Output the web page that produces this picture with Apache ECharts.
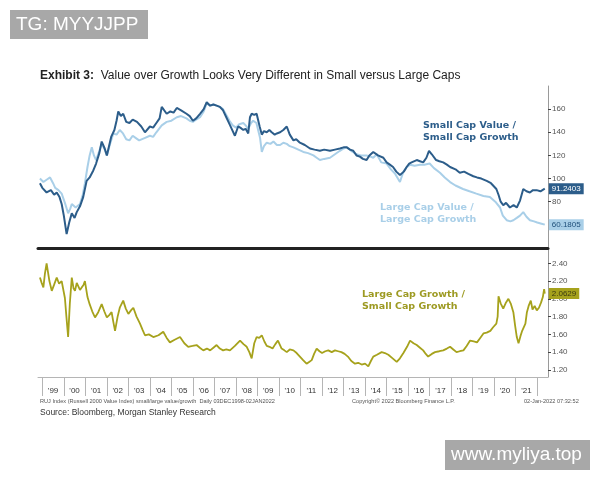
<!DOCTYPE html>
<html>
<head>
<meta charset="utf-8">
<script src="https://cdn.jsdelivr.net/npm/echarts/dist/echarts.min.js"></script>
<style>
html,body{margin:0;padding:0;background:#fff}
#main{width:600px;height:480px}
</style>
</head>
<body>
<div id="main"></div>
<script>
// small cap value / small cap growth (dark blue)
var svDates = [1998.89,1999.0,1999.2,1999.4,1999.55,1999.67,1999.8,1999.9,2000.0,2000.13,2000.25,2000.37,2000.5,2000.6,2000.75,2000.9,
	2001.06,2001.2,2001.37,2001.5,2001.65,2001.76,2001.9,2002.0,2002.1,2002.2,2002.35,2002.45,2002.53,2002.65,2002.76,2002.9,
	2003.05,2003.2,2003.4,2003.6,2003.77,2004.0,2004.15,2004.3,2004.45,2004.55,2004.78,2004.95,2005.1,2005.25,2005.45,2005.7,
	2005.85,2006.0,2006.15,2006.33,2006.5,2006.64,2006.8,2006.95,2007.1,2007.25,2007.4,2007.55,2007.7,2007.85,2007.95,2008.1,
	2008.2,2008.34,2008.45,2008.57,2008.65,2008.73,2008.85,2008.96,2009.1,2009.2,2009.3,2009.43,2009.55,2009.66,2009.8,2009.9,
	2010.05,2010.2,2010.36,2010.5,2010.67,2010.8,2010.97,2011.2,2011.44,2011.65,2011.9,2012.1,2012.37,2012.6,2012.83,2013.0,
	2013.15,2013.3,2013.45,2013.6,2013.76,2013.9,2014.07,2014.2,2014.38,2014.6,2014.85,2015.0,2015.15,2015.3,2015.45,2015.62,
	2015.8,2015.93,2016.05,2016.16,2016.4,2016.55,2016.7,2016.85,2016.97,2017.1,2017.3,2017.45,2017.63,2017.8,2017.95,2018.2,
	2018.4,2018.6,2018.8,2019.03,2019.2,2019.4,2019.65,2019.85,2020.1,2020.2,2020.3,2020.42,2020.55,2020.73,2020.9,2021.05,
	2021.2,2021.35,2021.5,2021.66,2021.8,2021.97,2022.15,2022.35];
var svValues = [96,92,88,90,86,88,84,78,68,52,62,70,66,71,76,84,
	98,101,107,113,122,132,126,120,128,136,142,150,158,154,156,149,
	148,151,149,145,140,145,144,148,152,162,156,158,157,161,159,156,
	154,150,152,156,160,166,163,164,163,162,159,153,147,141,137,145,
	144,142,143,139,153,156,155,156,145,138,141,140,142,140,138,139,
	140,142,145,138,133,134,131,129,126,125,124,125,124,125,126,127,
	127,125,124,120,119,117,116,120,123,120,118,114,112,110,106,103,
	106,110,113,114,116,115,114,118,124,121,116,115,114,112,110,108,
	105,106,104,102,101,100,98,96,91,86,80,77,79,75,77,75,
	81,91,89,88,90,90,89,91.24];

// large cap value / large cap growth (light blue)
var lvDates = [1998.89,1999.05,1999.2,1999.36,1999.5,1999.6,1999.75,1999.9,2000.05,2000.2,2000.3,2000.37,2000.55,2000.75,2000.88,2000.98,
	2001.1,2001.2,2001.3,2001.4,2001.5,2001.65,2001.76,2001.9,2002.0,2002.15,2002.3,2002.45,2002.6,2002.75,2002.9,2003.05,
	2003.2,2003.35,2003.5,2003.75,2004.0,2004.15,2004.3,2004.55,2004.78,2005.0,2005.25,2005.45,2005.7,2005.85,2006.0,2006.15,
	2006.33,2006.5,2006.64,2006.8,2006.95,2007.1,2007.25,2007.4,2007.55,2007.7,2007.85,2008.0,2008.15,2008.34,2008.45,2008.57,
	2008.7,2008.8,2008.95,2009.04,2009.12,2009.2,2009.3,2009.43,2009.6,2009.74,2009.9,2010.05,2010.2,2010.36,2010.5,2010.67,
	2010.9,2011.13,2011.35,2011.6,2011.75,2011.9,2012.1,2012.37,2012.6,2012.83,2013.0,2013.15,2013.35,2013.6,2013.8,2014.07,
	2014.25,2014.38,2014.54,2014.75,2015.0,2015.2,2015.4,2015.62,2015.78,2015.95,2016.09,2016.3,2016.55,2016.75,2017.0,2017.2,
	2017.48,2017.7,2017.95,2018.2,2018.55,2018.85,2019.17,2019.5,2019.8,2020.05,2020.27,2020.4,2020.58,2020.75,2020.89,2021.05,
	2021.2,2021.35,2021.5,2021.66,2021.85,2022.0,2022.2,2022.35];
var lvValues = [100,97,99,101,96,92,90,87,79,70,74,78,75,78,86,96,
	110,120,127,120,116,124,130,125,120,130,139,138,142,139,134,133,
	137,135,133,135,137,136,140,146,149,150,153,154,152,150,149,151,
	153,158,165,163,164,163,162,160,155,150,146,144,147,148,146,143,
	148,150,148,147,135,123,128,131,130,132,129,129,131,130,128,127,
	125,123,122,120,118,116,117,118,121,124,126,127,124,121,120,120,
	119,118,121,114,113,108,104,97,106,110,112,111,112,112,113,109,
	105,101,97,94,91,89,87,85,84,80,75,68,64,63,64,66,
	68,71,67,64,63,62,61,60.18];

// large cap growth / small cap growth (olive)
var lgDates = [1998.89,1998.97,1999.05,1999.12,1999.2,1999.25,1999.33,1999.44,1999.55,1999.67,1999.78,1999.9,2000.05,2000.12,2000.2,2000.28,
	2000.37,2000.45,2000.52,2000.6,2000.67,2000.75,2000.83,2000.92,2000.98,2001.1,2001.2,2001.32,2001.45,2001.6,2001.76,2001.88,
	2002.0,2002.12,2002.22,2002.3,2002.38,2002.5,2002.6,2002.76,2002.88,2003.0,2003.12,2003.23,2003.38,2003.54,2003.66,2003.77,
	2003.95,2004.16,2004.4,2004.62,2004.78,2004.93,2005.15,2005.4,2005.6,2005.78,2005.98,2006.17,2006.32,2006.48,2006.65,2006.8,
	2006.95,2007.1,2007.25,2007.4,2007.55,2007.72,2007.95,2008.19,2008.35,2008.5,2008.62,2008.73,2008.85,2008.96,2009.08,2009.2,
	2009.32,2009.43,2009.56,2009.7,2009.83,2009.95,2010.12,2010.25,2010.36,2010.5,2010.67,2010.82,2010.97,2011.12,2011.28,2011.4,
	2011.52,2011.63,2011.75,2011.88,2012.0,2012.15,2012.29,2012.45,2012.6,2012.75,2012.9,2013.05,2013.2,2013.36,2013.53,2013.68,
	2013.84,2014.0,2014.15,2014.27,2014.38,2014.55,2014.77,2014.92,2015.08,2015.28,2015.47,2015.62,2015.78,2015.95,2016.09,2016.25,
	2016.4,2016.55,2016.7,2016.82,2016.93,2017.1,2017.25,2017.45,2017.63,2017.8,2017.95,2018.1,2018.25,2018.4,2018.57,2018.72,
	2018.88,2019.05,2019.2,2019.35,2019.5,2019.65,2019.82,2019.95,2020.1,2020.16,2020.2,2020.3,2020.42,2020.55,2020.66,2020.78,
	2020.89,2020.97,2021.05,2021.13,2021.22,2021.3,2021.45,2021.52,2021.6,2021.7,2021.78,2021.88,2021.98,2022.08,2022.18,2022.26,
	2022.32,2022.35];
var lgValues = [2.24,2.18,2.13,2.28,2.40,2.42,2.20,2.09,2.16,2.24,2.17,2.20,2.01,1.80,1.57,1.95,
	2.24,2.12,2.09,2.18,2.20,2.10,2.09,2.16,2.20,2.02,1.94,1.86,1.79,1.85,1.94,1.86,
	1.79,1.82,1.85,1.74,1.64,1.80,1.90,1.98,1.89,1.83,1.87,1.90,1.80,1.72,1.65,1.59,
	1.60,1.57,1.59,1.63,1.56,1.51,1.54,1.57,1.50,1.46,1.47,1.48,1.45,1.42,1.44,1.42,
	1.45,1.48,1.44,1.42,1.43,1.42,1.47,1.53,1.49,1.46,1.40,1.33,1.50,1.57,1.56,1.59,
	1.52,1.47,1.46,1.44,1.49,1.53,1.44,1.42,1.40,1.43,1.42,1.39,1.35,1.31,1.27,1.29,
	1.31,1.38,1.44,1.41,1.39,1.41,1.42,1.40,1.42,1.41,1.40,1.38,1.35,1.30,1.27,1.28,
	1.26,1.27,1.24,1.30,1.35,1.37,1.40,1.39,1.37,1.33,1.29,1.33,1.39,1.46,1.53,1.50,
	1.48,1.45,1.42,1.38,1.35,1.38,1.40,1.41,1.42,1.44,1.46,1.43,1.40,1.41,1.42,1.47,
	1.53,1.52,1.51,1.56,1.61,1.62,1.64,1.68,1.72,1.80,2.03,1.95,1.89,1.96,2.00,1.94,
	1.85,1.70,1.57,1.50,1.58,1.64,1.72,1.85,1.92,1.98,1.88,1.92,1.87,1.90,1.96,2.02,
	2.11,2.06];

var yearTicks = [1999,2000,2001,2002,2003,2004,2005,2006,2007,2008,2009,2010,2011,2012,2013,2014,2015,2016,2017,2018,2019,2020,2021,2022];
var yearLabels = [1999.5,2000.5,2001.5,2002.5,2003.5,2004.5,2005.5,2006.5,2007.5,2008.5,2009.5,2010.5,2011.5,2012.5,2013.5,2014.5,2015.5,2016.5,2017.5,2018.5,2019.5,2020.5,2021.5];
var topTicks = [80,100,120,140,160];
var bottomTicks = [1.20,1.40,1.60,1.80,2.00,2.20,2.40];

var DARK = '#2c5d8a', LIGHT = '#a9cfe8', OLIVE = '#a6a21c';

function pairs(dates, vals) {
	var out = [];
	for (var i = 0; i < dates.length; i++) out.push([dates[i], vals[i]]);
	return out;
}

function wmark(x, y, w, h, txt) {
	return {
		type: 'group',
		children: [
			{type: 'rect', shape: {x: x, y: y, width: w, height: h}, style: {fill: '#a8a8a8'}},
			{type: 'text', style: {x: x + 6, y: y + h / 2, text: txt, fill: '#fff', font: '19px "Liberation Sans"', verticalAlign: 'middle'}}
		]
	};
}

function note(x, y, txt, color) {
	return {type: 'text', style: {x: x, y: y, text: txt, fill: color, font: 'bold 9.5px "DejaVu Sans"', lineHeight: 12, verticalAlign: 'top'}};
}

var myChart = echarts.init(document.getElementById('main'));

var rightAxis = function (idx, min, max, ticks, fmt) {
	return {
		type: 'value', gridIndex: idx, position: 'right', min: min, max: max,
		splitLine: {show: false},
		axisLine: {show: true, lineStyle: {color: '#9a9a9a', width: 1}},
		axisTick: {show: true, customValues: ticks, length: 3, lineStyle: {color: '#444'}},
		axisLabel: {customValues: ticks, margin: 4, fontSize: 8, color: '#555', fontFamily: 'Liberation Sans', formatter: fmt}
	};
};

var option = {
	backgroundColor: '#fff',
	animation: false,
	title: {
		text: '{b|Exhibit 3:}  Value over Growth Looks Very Different in Small versus Large Caps',
		left: 35, top: 65,
		textStyle: {fontSize: 12, fontWeight: 'normal', color: '#222', fontFamily: 'Liberation Sans',
			rich: {b: {fontWeight: 'bold', fontSize: 12, color: '#222', fontFamily: 'Liberation Sans'}}}
	},
	grid: [
		{left: 38, right: 52, top: 86, height: 162},
		{left: 38, right: 52, top: 250, height: 127}
	],
	xAxis: [
		{type: 'value', gridIndex: 0, min: 1998.8, max: 2022.5,
			splitLine: {show: false}, axisTick: {show: false}, axisLabel: {show: false},
			axisLine: {show: true, lineStyle: {color: '#222', width: 3}}},
		{type: 'value', gridIndex: 1, min: 1998.8, max: 2022.5,
			splitLine: {show: false},
			axisLine: {show: true, lineStyle: {color: '#b5b5b5', width: 1}},
			axisTick: {show: true, customValues: yearTicks, length: 19, lineStyle: {color: '#b5b5b5'}},
			axisLabel: {customValues: yearLabels, margin: 10, fontSize: 8, color: '#333', fontFamily: 'Liberation Sans',
				formatter: function (v) { return "'" + String(Math.floor(v)).slice(2); }}}
	],
	yAxis: [
		rightAxis(0, 40, 180, topTicks, function (v) { return String(v); }),
		rightAxis(1, 1.12, 2.55, bottomTicks, function (v) { return v.toFixed(2); })
	],
	series: [
		{name: 'Large Cap Value / Large Cap Growth', type: 'line', xAxisIndex: 0, yAxisIndex: 0,
			data: pairs(lvDates, lvValues), symbol: 'none', lineStyle: {color: LIGHT, width: 2}, z: 2,
			endLabel: {show: true, formatter: '60.1805', distance: 4, fontSize: 8, color: '#1f4f7a',
				backgroundColor: LIGHT, padding: [2, 3, 1, 3], fontFamily: 'Liberation Sans'}},
		{name: 'Small Cap Value / Small Cap Growth', type: 'line', xAxisIndex: 0, yAxisIndex: 0,
			data: pairs(svDates, svValues), symbol: 'none', lineStyle: {color: DARK, width: 2}, z: 3,
			endLabel: {show: true, formatter: '91.2403', distance: 4, fontSize: 8, color: '#fff',
				backgroundColor: DARK, padding: [2, 3, 1, 3], fontFamily: 'Liberation Sans'}},
		{name: 'Large Cap Growth / Small Cap Growth', type: 'line', xAxisIndex: 1, yAxisIndex: 1,
			data: pairs(lgDates, lgValues), symbol: 'none', lineStyle: {color: OLIVE, width: 1.8}, z: 2,
			endLabel: {show: true, formatter: '2.0629', distance: 4, fontSize: 8, color: '#3a3a10',
				backgroundColor: OLIVE, padding: [2, 3, 1, 3], fontFamily: 'Liberation Sans'}}
	],
	graphic: [
		wmark(10, 10, 138, 29, 'TG: MYYJJPP'),
		wmark(445, 440, 145, 30, 'www.myliya.top'),
		note(423, 120, 'Small Cap Value /\nSmall Cap Growth', DARK),
		note(380, 202, 'Large Cap Value /\nLarge Cap Growth', LIGHT),
		note(362, 289, 'Large Cap Growth /\nSmall Cap Growth', '#9d9a22'),
		{type: 'text', style: {x: 40, y: 398, text: 'RUJ Index (Russell 2000 Value Index) small/large value/growth  Daily 03DEC1998-02JAN2022',
			fill: '#555', font: '5.6px "Liberation Sans"', verticalAlign: 'top'}},
		{type: 'text', style: {x: 352, y: 398, text: 'Copyright\u00a9 2022 Bloomberg Finance L.P.',
			fill: '#555', font: '5.6px "Liberation Sans"', verticalAlign: 'top'}},
		{type: 'text', style: {x: 524, y: 398, text: '02-Jan-2022 07:32:52',
			fill: '#555', font: '5.6px "Liberation Sans"', verticalAlign: 'top'}},
		{type: 'text', style: {x: 40, y: 408, text: 'Source: Bloomberg, Morgan Stanley Research',
			fill: '#333', font: '8.5px "Liberation Sans"', verticalAlign: 'top'}}
	]
};

myChart.setOption(option);
</script>
</body>
</html>
